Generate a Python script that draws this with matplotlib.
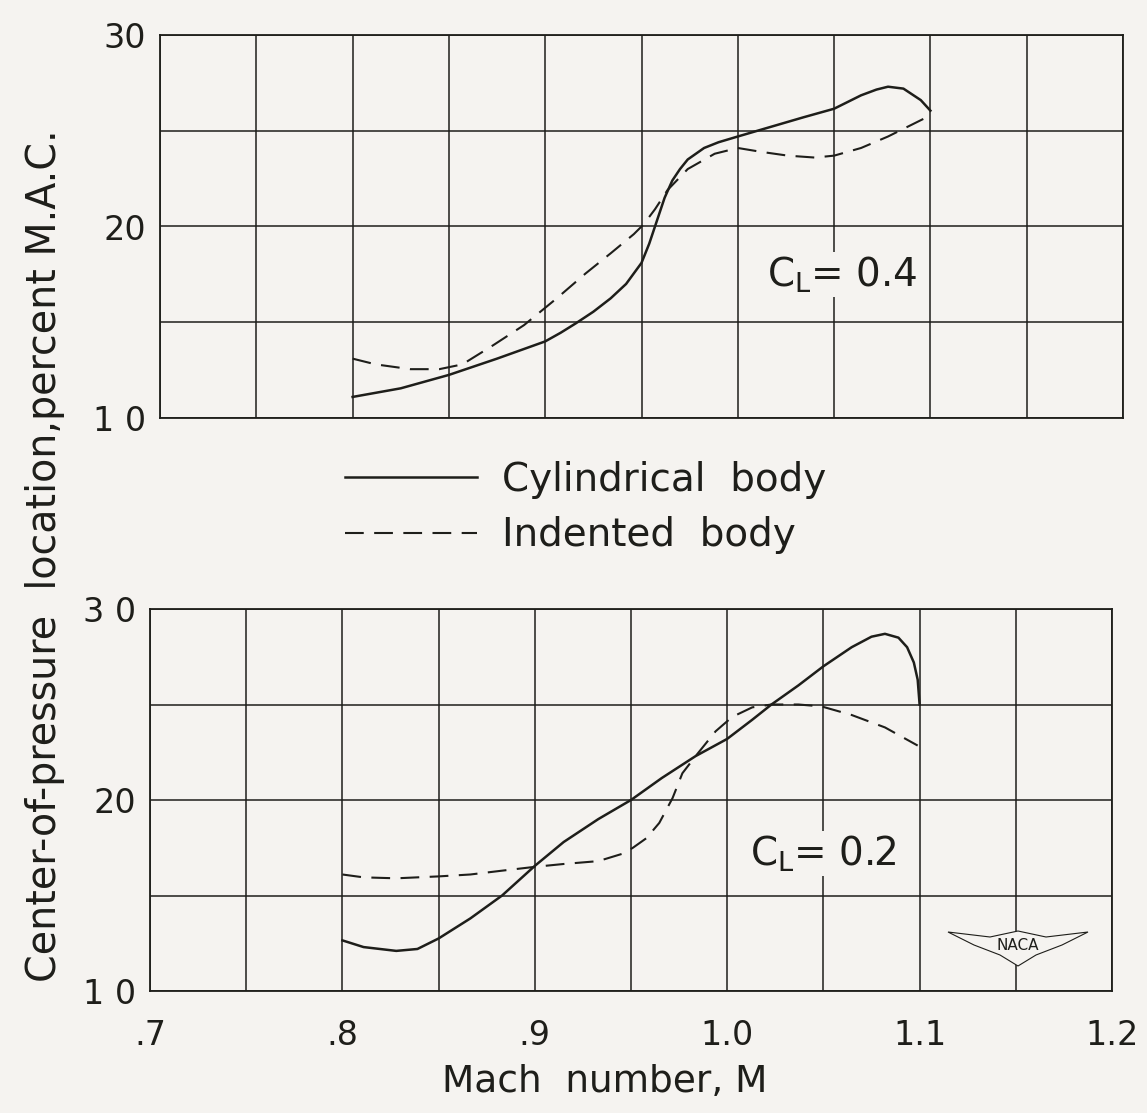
import matplotlib
matplotlib.use('Agg')
import matplotlib.pyplot as plt
from matplotlib.patches import Polygon

# Center-of-pressure location vs Mach number

# C_L = 0.4, cylindrical body
mach_cyl_04 = [0.800, 0.825, 0.850, 0.875, 0.900, 0.908, 0.916, 0.925, 0.934, 0.942,
               0.950, 0.954, 0.957, 0.962, 0.966, 0.970, 0.974, 0.9825, 0.990, 1.000,
               1.017, 1.034, 1.050, 1.064, 1.072, 1.078, 1.086, 1.095, 1.100]
cp_cyl_04 = [11.1, 11.55, 12.25, 13.1, 14.0, 14.45, 14.95, 15.55, 16.25, 17.0,
             18.1, 19.1, 20.0, 21.5, 22.4, 23.0, 23.5, 24.1, 24.4, 24.7,
             25.2, 25.7, 26.15, 26.85, 27.15, 27.3, 27.2, 26.6, 26.05]

# C_L = 0.4, indented body
mach_ind_04 = [0.800, 0.812, 0.830, 0.845, 0.857, 0.873, 0.889, 0.906, 0.921, 0.934,
               0.946, 0.951, 0.957, 0.9635, 0.974, 0.988, 1.000, 1.012, 1.026, 1.040,
               1.050, 1.064, 1.078, 1.090, 1.100]
cp_ind_04 = [13.1, 12.8, 12.55, 12.55, 12.8, 13.8, 14.85, 16.25, 17.55, 18.6,
             19.6, 20.1, 20.9, 21.9, 23.0, 23.8, 24.1, 23.9, 23.7, 23.6,
             23.7, 24.1, 24.7, 25.3, 25.8]

# C_L = 0.2, cylindrical body
mach_cyl_02 = [0.800, 0.811, 0.828, 0.839, 0.850, 0.8665, 0.883, 0.900, 0.915, 0.933,
               0.950, 0.966, 0.9836, 1.000, 1.013, 1.023, 1.037, 1.050, 1.0647, 1.075,
               1.082, 1.089, 1.0935, 1.0970, 1.099, 1.100]
cp_cyl_02 = [12.65, 12.3, 12.1, 12.2, 12.75, 13.8, 15.0, 16.55, 17.8, 19.0,
             20.0, 21.15, 22.3, 23.2, 24.2, 25.0, 26.0, 27.0, 28.0, 28.55,
             28.7, 28.5, 28.0, 27.2, 26.3, 25.0]

# C_L = 0.2, indented body
mach_ind_02 = [0.800, 0.811, 0.828, 0.850, 0.8665, 0.883, 0.900, 0.915, 0.933, 0.946,
               0.951, 0.958, 0.9647, 0.9716, 0.9767, 0.9836, 0.994, 1.0026, 1.013, 1.023,
               1.037, 1.049, 1.0647, 1.082, 1.099]
cp_ind_02 = [16.1, 15.95, 15.9, 16.0, 16.1, 16.3, 16.5, 16.65, 16.8, 17.2,
             17.5, 18.0, 18.8, 20.1, 21.4, 22.3, 23.6, 24.35, 24.85, 25.0,
             25.0, 24.9, 24.45, 23.8, 22.85]

series_labels = ['Cylindrical  body', 'Indented  body']
x_ticks = [0.70, 0.75, 0.80, 0.85, 0.90, 0.95, 1.00, 1.05, 1.10, 1.15, 1.20]
x_tick_labels = ['.7', '', '.8', '', '.9', '', '1.0', '', '1.1', '', '1.2']
y_ticks = [10, 15, 20, 25, 30]
y_labels_top = ['1 0', '', '20', '', '30']
y_labels_bottom = ['1 0', '', '20', '', '3 0']

paper = '#f5f3f0'
ink = '#1e1e1a'
dash = (0, (9, 5))

plt.rcParams['font.family'] = ['DejaVu Sans']

fig = plt.figure(figsize=(11.47, 11.13), dpi=100, facecolor=paper)
ax1 = fig.add_axes([160 / 1147, 1 - 418 / 1113, 963 / 1147, 383 / 1113])
ax2 = fig.add_axes([150 / 1147, 1 - 991 / 1113, 962 / 1147, 382 / 1113])


def style_axes(ax, ylabels, show_x):
    ax.set_facecolor(paper)
    ax.set_xlim(0.7, 1.2)
    ax.set_ylim(10, 30)
    ax.set_xticks(x_ticks)
    ax.set_yticks(y_ticks)
    ax.set_yticklabels(ylabels)
    if show_x:
        ax.set_xticklabels(x_tick_labels)
    else:
        ax.set_xticklabels([])
    ax.tick_params(length=0, labelsize=24, colors=ink)
    ax.tick_params(axis='y', pad=10)
    ax.tick_params(axis='x', pad=20)
    ax.grid(True, color=ink, linewidth=1.1)
    for s in ax.spines.values():
        s.set_color(ink)
        s.set_linewidth(1.3)


style_axes(ax1, y_labels_top, False)
style_axes(ax2, y_labels_bottom, True)

h1, = ax1.plot(mach_cyl_04, cp_cyl_04, color=ink, lw=1.8, zorder=3)
h2, = ax1.plot(mach_ind_04, cp_ind_04, color=ink, lw=1.5, linestyle=dash, zorder=3)
ax2.plot(mach_cyl_02, cp_cyl_02, color=ink, lw=1.8, zorder=3)
ax2.plot(mach_ind_02, cp_ind_02, color=ink, lw=1.5, linestyle=dash, zorder=3)

box = dict(facecolor=paper, edgecolor='none', pad=2)
ax1.text(1.015, 17.5, r'$\mathregular{C_L}$= 0.4', fontsize=28, color=ink,
         va='center', ha='left', bbox=box, zorder=4)
ax2.text(1.012, 17.2, r'$\mathregular{C_L}$= 0.2', fontsize=28, color=ink,
         va='center', ha='left', bbox=box, zorder=4)

# NACA wing emblem
wing = [(948, 932), (990, 937), (1018, 931), (1046, 937), (1088, 932), (1062, 945),
        (1036, 955), (1018, 966), (1000, 955), (974, 945)]
wing = [((px - 150) / 962, (991 - py) / 382) for px, py in wing]
ax2.add_patch(Polygon(wing, closed=True, transform=ax2.transAxes, facecolor=paper,
                      edgecolor=ink, linewidth=0.8, zorder=4))
ax2.text((1018 - 150) / 962, (991 - 946) / 382, 'NACA', transform=ax2.transAxes,
         fontsize=11, color=ink, ha='center', va='center', zorder=5)

fig.legend(handles=[h1, h2], labels=series_labels, loc='upper left',
           bbox_to_anchor=(345 / 1147, 1 - 461 / 1113), frameon=False,
           fontsize=28, handlelength=3.4, handletextpad=0.65, labelspacing=0.45,
           borderpad=0, borderaxespad=0, labelcolor=ink)

fig.text(45 / 1147, 1 - 556 / 1113, 'Center-of-pressure  location,percent M.A.C.',
         rotation=90, fontsize=28.5, color=ink, ha='center', va='center')
fig.text(605 / 1147, 1 - 1082 / 1113, 'Mach  number, M', fontsize=27, color=ink,
         ha='center', va='center')

fig.savefig('out.png', dpi=100, facecolor=paper)
